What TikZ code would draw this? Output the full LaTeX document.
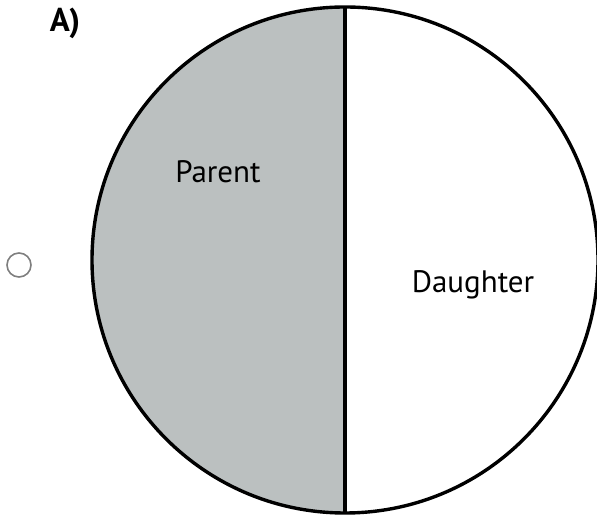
\documentclass[tikz,border=0pt]{standalone}
\usepackage{fontspec}
\setmainfont{PT Sans}
\definecolor{parentgray}{HTML}{BBC0C0}
\definecolor{optiongray}{HTML}{7F7F7F}
\begin{document}
\begin{tikzpicture}[x=1pt,y=1pt,line cap=round,line join=round]
  \useasboundingbox (0,0) rectangle (597,516);
  \coordinate (O) at (345,256);
  \coordinate (T) at (345,509);
  \coordinate (B) at (345,3);
  \fill[parentgray] (T) arc[start angle=90, end angle=270, radius=253] -- cycle;
  \draw[line width=3.4pt] (O) circle[radius=253];
  \draw[line width=3.4pt,line cap=butt] (T) -- (B);
  \draw[optiongray,line width=1.6pt] (19,251) circle[radius=12];
  \node[font=\fontsize{33}{34}\selectfont\bfseries] (label) at (65,493) {A)};
  \node[anchor=base,font=\fontsize{31}{33}\selectfont] (parent) at (218,333) {Parent};
  \node[anchor=base,font=\fontsize{31}{33}\selectfont] (daughter) at (473,223) {Daughter};
\end{tikzpicture}
\end{document}
